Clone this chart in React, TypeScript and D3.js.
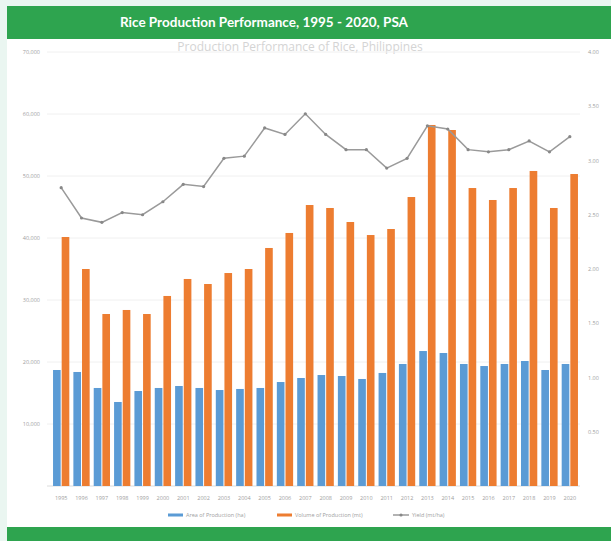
import React from "react";
import * as d3 from "d3";

const years = ["1995","1996","1997","1998","1999","2000","2001","2002","2003","2004","2005","2006","2007","2008","2009","2010","2011","2012","2013","2014","2015","2016","2017","2018","2019","2020"];
const areaValues = [18710,18390,15810,13550,15320,15810,16130,15810,15480,15650,15810,16770,17420,17900,17740,17260,18230,19680,21770,21450,19680,19350,19680,20160,18710,19680];
const volumeValues = [40160,35000,27740,28390,27740,30650,33390,32580,34350,35000,38390,40810,45320,44840,42580,40480,41450,46610,58230,57420,48060,46130,48060,50810,44840,50320];
const yieldValues = [2.75,2.47,2.43,2.52,2.50,2.62,2.78,2.76,3.02,3.04,3.30,3.24,3.43,3.24,3.10,3.10,2.93,3.02,3.32,3.29,3.10,3.08,3.10,3.18,3.08,3.22];
const leftTicks = [10000,20000,30000,40000,50000,60000,70000];
const rightTicks = [0.5,1,1.5,2,2.5,3,3.5,4];
const seriesNames = ["Area of Production (ha)", "Volume of Production (mt)", "Yield (mt/ha)"];
const title = "Rice Production Performance, 1995 - 2020, PSA";
const subtitle = "Production Performance of Rice, Philippines";

const W = 611, H = 541;
const plotTop = 52, plotBottom = 486, plotLeft = 51, plotRight = 580;
const BLUE = "#5b9bd5", ORANGE = "#ed7d31", GRAY = "#9a9a9a";

export default function App() {
  const x = d3.scaleBand<string>().domain(years).range([plotLeft, plotRight]).paddingInner(0.2).paddingOuter(0.1);
  const yL = d3.scaleLinear().domain([0, 70000]).range([plotBottom, plotTop]);
  const yR = d3.scaleLinear().domain([0, 4]).range([plotBottom, plotTop]);
  const bw = x.bandwidth();
  const half = bw / 2 - 0.5;
  const fmt = d3.format(",");
  const line = d3.line<number>()
    .x((_, i) => (x(years[i]) as number) + bw / 2)
    .y((d) => yR(d));
  const font = "'Open Sans', 'Noto Sans', sans-serif";
  return (
    <div style={{ position: "fixed", left: 0, top: 0 }}>
      <svg width={W} height={H} style={{ display: "block" }} fontFamily={font}>
        <rect x={0} y={0} width={W} height={H} fill="#eaf6f1" />
        <rect x={7} y={39} width={W - 7} height={488} fill="#ffffff" />
        <rect x={7} y={6} width={W - 7} height={33} fill="#2ea44f" />
        <text x={264} y={27} textAnchor="middle" fill="#ffffff" fontSize={13.5} fontWeight={700} fontFamily="Lato, 'Open Sans', sans-serif">{title}</text>
        <text x={300} y={51} textAnchor="middle" fill="#d4d4d4" fontSize={12}>{subtitle}</text>
        <rect x={7} y={527} width={W - 7} height={14} fill="#2ea44f" />
        {leftTicks.map((t) => (
          <g key={"l" + t}>
            <line x1={plotLeft - 4} x2={plotRight} y1={yL(t)} y2={yL(t)} stroke="#f0f0f0" strokeWidth={1} />
            <text x={40} y={yL(t) + 2} textAnchor="end" fill="#a0a0a0" fontSize={5.5}>{fmt(t)}</text>
          </g>
        ))}
        {rightTicks.map((t) => (
          <text key={"r" + t} x={588} y={yR(t) + 2} textAnchor="start" fill="#a0a0a0" fontSize={5.5}>{t.toFixed(2)}</text>
        ))}
        <line x1={plotLeft - 4} x2={plotRight} y1={plotBottom} y2={plotBottom} stroke="#dcdcdc" />
        {years.map((yr, i) => {
          const x0 = x(yr) as number;
          return (
            <g key={yr}>
              <rect x={x0} y={yL(areaValues[i])} width={half} height={plotBottom - yL(areaValues[i])} fill={BLUE} />
              <rect x={x0 + bw / 2 + 0.5} y={yL(volumeValues[i])} width={half} height={plotBottom - yL(volumeValues[i])} fill={ORANGE} />
              <text x={x0 + bw / 2} y={500} textAnchor="middle" fill="#a0a0a0" fontSize={5.5}>{yr}</text>
            </g>
          );
        })}
        <path d={line(yieldValues) || ""} fill="none" stroke={GRAY} strokeWidth={1.5} />
        {yieldValues.map((v, i) => (
          <circle key={"p" + i} cx={(x(years[i]) as number) + bw / 2} cy={yR(v)} r={1.6} fill="#888" />
        ))}
        <g fontSize={5.5} fill="#a0a0a0">
          <rect x={168} y={513.5} width={15} height={3} fill={BLUE} />
          <text x={186} y={517}>{seriesNames[0]}</text>
          <rect x={277} y={513.5} width={15} height={3} fill={ORANGE} />
          <text x={295} y={517}>{seriesNames[1]}</text>
          <line x1={393} x2={409} y1={515} y2={515} stroke={GRAY} strokeWidth={1.5} />
          <circle cx={401} cy={515} r={1.6} fill="#888" />
          <text x={412} y={517}>{seriesNames[2]}</text>
        </g>
      </svg>
    </div>
  );
}
